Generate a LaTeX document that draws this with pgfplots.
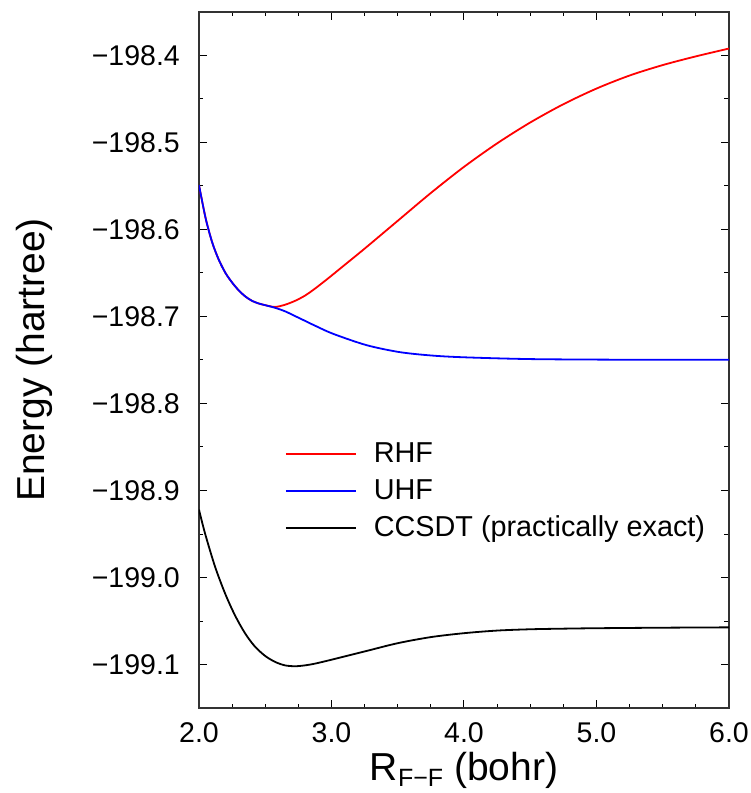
\documentclass[border=0pt]{standalone}
\usepackage{fontspec}
\setmainfont{Liberation Sans}
\usepackage{pgfplots}
\pgfplotsset{compat=1.18}

\begin{document}
\begin{tikzpicture}
\begin{axis}[
  name=ax,
  scale only axis, width=530pt, height=696pt,
  xmin=2, xmax=6, ymin=-199.15, ymax=-198.35,
  xtick={2,3,4,5,6}, xticklabels={2.0,3.0,4.0,5.0,6.0},
  ytick={-199.1,-199.0,-198.9,-198.8,-198.7,-198.6,-198.5,-198.4},
  yticklabels={−199.1,−199.0,−198.9,−198.8,−198.7,−198.6,−198.5,−198.4},
  minor x tick num=3, minor y tick num=1,
  tick align=inside, major tick length=8pt, minor tick length=4.5pt,
  axis line style={line width=1.2pt, black!80},
  tick style={line width=1pt, black},
  tick label style={font=\fontsize{28.5}{28.5}\selectfont},
  xticklabel style={inner sep=0pt, anchor=north, yshift=-14pt},
  yticklabel style={inner sep=0pt, anchor=east, xshift=-19pt},
  every axis x label/.style={at={(axis description cs:0.5,-0.1035)}, anchor=base,
    font=\fontsize{39}{39}\selectfont},
  every axis y label/.style={at={(axis description cs:-0.2906,0.5)}, rotate=90, anchor=base,
    font=\fontsize{39}{39}\selectfont},
  xlabel={R\raisebox{-6pt}{\fontsize{25}{25}\selectfont F−F} (bohr)},
  ylabel={Energy (hartree)},
  legend style={at={(axis description cs:0.162,0.378)}, anchor=north west,
    draw=none, fill=none, inner sep=0pt, row sep=20pt, column sep=17pt,
    font=\fontsize{28.8}{28.8}\selectfont,
    nodes={inner sep=0pt, text height=17pt, text depth=0pt}},
  legend cell align=left,
  legend image code/.code={\draw[#1] (0pt,0pt) -- (70pt,0pt);},
]
% RHF
\addplot[red, line width=1.8pt, smooth] coordinates {
  (2.0,-198.549) (2.05,-198.587) (2.1,-198.615) (2.15,-198.635) (2.2,-198.650)
  (2.25,-198.661) (2.3,-198.670) (2.35,-198.677) (2.4,-198.682) (2.45,-198.685)
  (2.5,-198.687) (2.574,-198.689) (2.649,-198.6865) (2.725,-198.682) (2.80,-198.676)
  (2.875,-198.668) (2.976,-198.656) (3.089,-198.642) (3.25,-198.622) (3.5,-198.590)
  (3.75,-198.558) (4.0,-198.528) (4.25,-198.501) (4.5,-198.477) (4.75,-198.456)
  (5.0,-198.438) (5.25,-198.423) (5.5,-198.411) (5.75,-198.401) (6.0,-198.392)};
\addlegendentry{RHF}
% UHF
\addplot[blue, line width=1.8pt, smooth] coordinates {
  (2.0,-198.549) (2.05,-198.587) (2.1,-198.615) (2.15,-198.635) (2.2,-198.650)
  (2.25,-198.661) (2.3,-198.670) (2.35,-198.677) (2.4,-198.682) (2.45,-198.685)
  (2.5,-198.687) (2.574,-198.690) (2.649,-198.694) (2.725,-198.6995) (2.80,-198.705)
  (2.875,-198.7105) (3.014,-198.720) (3.266,-198.733) (3.517,-198.741) (3.768,-198.745)
  (4.02,-198.747) (4.523,-198.749) (5.278,-198.7497) (6.0,-198.7497)};
\addlegendentry{UHF}
% CCSDT
\addplot[black, line width=1.8pt, smooth] coordinates {
  (2.0,-198.922) (2.045,-198.949) (2.12,-198.987) (2.196,-199.018) (2.27,-199.043)
  (2.347,-199.064) (2.42,-199.079) (2.498,-199.090) (2.574,-199.097) (2.649,-199.101)
  (2.725,-199.102) (2.80,-199.101) (2.875,-199.099) (3.0,-199.0945) (3.25,-199.085)
  (3.5,-199.0755) (3.75,-199.0685) (4.0,-199.064) (4.25,-199.061) (4.5,-199.0595)
  (4.75,-199.0588) (5.0,-199.0583) (5.5,-199.0577) (6.0,-199.0573)};
\addlegendentry{CCSDT (practically exact)}
\end{axis}
\path (ax.south west) ++(-199pt,-85pt) rectangle ++(751pt,793pt);
\end{tikzpicture}
\end{document}
